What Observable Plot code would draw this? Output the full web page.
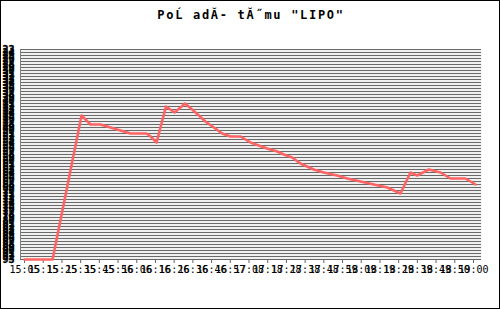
<!DOCTYPE html>
<html>
<head>
<meta charset="utf-8">
<script src="https://cdn.jsdelivr.net/npm/d3@7"></script>
<script src="https://cdn.jsdelivr.net/npm/@observablehq/plot@0.6"></script>
<style>
  html, body { margin: 0; padding: 0; background: white; }
  #chart svg { display: block; outline: 1px solid black; outline-offset: -1px; }
</style>
</head>
<body>
<div id="chart"></div>
<script>
const title = "PoĹ adĂ- tĂ˝mu \"LIPO\"";

// minutes since 15:05 (x) and team rank (y)
const minutes = [0, 15, 30.5, 35.3, 40.6, 46, 51.3, 56.7, 62, 65.2, 67.4, 70.6, 75.6, 80.2, 85.8, 89.6, 93.2, 96.7, 101.2, 105.7, 110.1, 115.5, 120.8, 125.2, 129.7, 135.1, 138.6, 143.1, 147.5, 154.6, 160, 167.1, 172.5, 179.6, 186.7, 193.9, 201, 206.3, 209.9, 216.1, 222.4, 227.7, 235.7, 241.1];
const ranks   = [93, 93, 45, 48, 48, 49, 50, 51, 51, 51, 52, 54, 42, 44, 41, 43, 45, 47, 49, 51, 52, 52, 54, 55, 56, 57, 58, 59, 61, 63, 64, 65, 66, 67, 68, 69, 71, 64, 65, 63, 64, 66, 66, 68];

const xTickLabels = ["15:05","15:15","15:25","15:35","15:45","15:56","16:06","16:16","16:26","16:36","16:46","16:57","17:08","17:18","17:28","17:38","17:48","17:59","18:09","18:19","18:29","18:39","18:49","18:50","19:00"];
const xTickMinutes = xTickLabels.map((_, i) => i * 10);
const yTicks = d3.range(23, 94);

const data = minutes.map((m, i) => ({m, r: ranks[i]}));

const chart = Plot.plot({
  width: 500,
  height: 309,
  marginLeft: 20,
  marginRight: 19,
  marginTop: 49,
  marginBottom: 50,
  style: {fontFamily: "DejaVu Sans Mono", fontSize: "10px", background: "white", color: "black", overflow: "visible"},
  x: {domain: [-2.14, 244.28], label: null},
  y: {domain: [23, 93], reverse: true, label: null},
  marks: [
    Plot.frame({fill: "#f0f0f0", stroke: null}),
    Plot.ruleY(yTicks, {stroke: "#6a6a6a", strokeWidth: 1}),
    Plot.frame({stroke: "#808080", strokeWidth: 1, anchor: "left"}),
    Plot.axisY({ticks: yTicks, tickSize: 0, tickPadding: 6, tickFormat: d => String(d), fill: "black", fontSize: 10, fontWeight: "bold", label: null}),
    Plot.axisX({ticks: xTickMinutes, tickSize: 4, tickPadding: 2, stroke: "#666", fill: "black",
      tickFormat: d => xTickLabels[Math.round(d / 10)], fontSize: 10, label: null}),
    Plot.ruleY([93], {stroke: "#666"}),
    Plot.line(data, {x: "m", y: "r", stroke: "#ff6464", strokeWidth: 2.6}),
    Plot.text([title], {frameAnchor: "top", dy: -31, lineAnchor: "bottom", fontSize: 12, fontWeight: "bold", fill: "black"})
  ]
});

document.getElementById("chart").appendChild(chart);
d3.select(chart).selectAll("text").filter(function() { return this.textContent === title; })
  .style("letter-spacing", "1.7px");
d3.select(chart).selectAll("g[aria-label='y-axis tick label'] text")
  .attr("stroke", "black").attr("stroke-width", 0.4);
</script>
</body>
</html>
